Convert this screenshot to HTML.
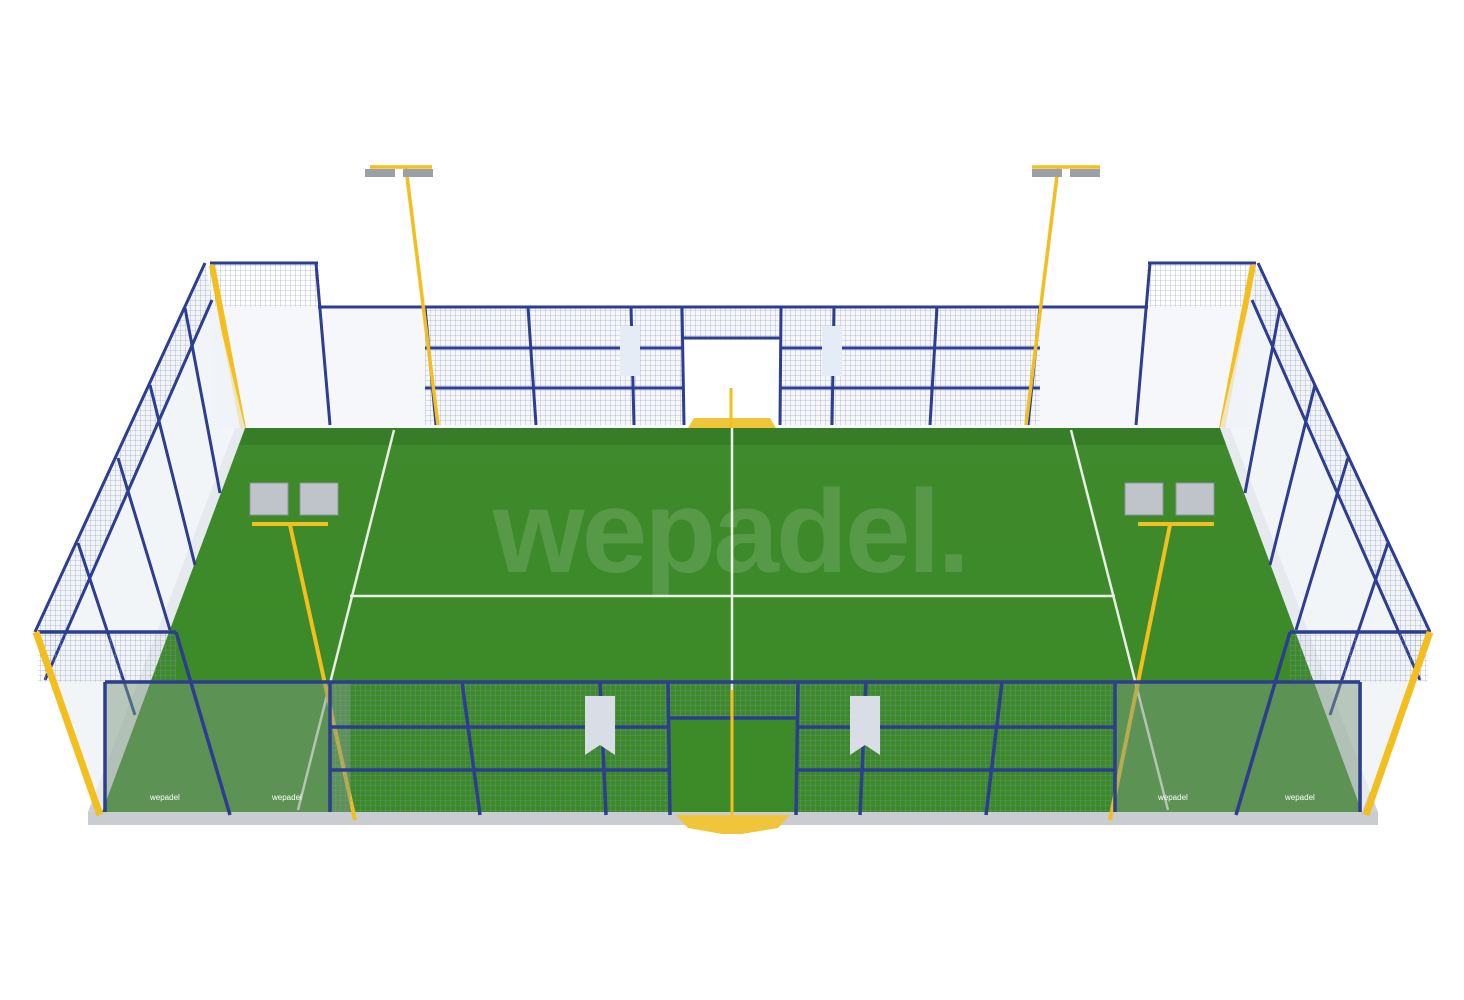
<!DOCTYPE html>
<html><head><meta charset="utf-8"><style>
html,body{margin:0;padding:0;background:#fff;width:1464px;height:1000px;overflow:hidden}
svg{display:block}
</style></head><body>
<svg width="1464" height="1000" viewBox="0 0 1464 1000" xmlns="http://www.w3.org/2000/svg">
<defs>
<pattern id="mesh" width="5" height="5" patternUnits="userSpaceOnUse">
<path d="M0 0H5M0 0V5" stroke="#8a93c0" stroke-width="0.6" fill="none"/>
</pattern>
<linearGradient id="grass" x1="0" y1="0" x2="0" y2="1">
<stop offset="0" stop-color="#3f8a2c"/><stop offset="1" stop-color="#3a8a26"/>
</linearGradient>
</defs>
<polygon points="88,812 1378,812 1378,825 88,825" fill="#c9ccd0"/>
<polygon points="235,428 1230,428 1378,812 88,812" fill="#cdd0d4"/>
<polygon points="245,428 1220,428 1362,812 102,812" fill="url(#grass)"/>
<polygon points="245,428 1220,428 1226,445 240,445" fill="#2f6e20" opacity="0.5"/>
<g stroke="#e9efe4" stroke-width="2.5" fill="none">
<line x1="732" y1="428" x2="732" y2="812"/>
<line x1="350" y1="596" x2="1115" y2="596"/>
<line x1="394" y1="430" x2="298" y2="810"/>
<line x1="1071" y1="430" x2="1168" y2="810"/>
</g>
<text x="730" y="572" text-anchor="middle" font-family="Liberation Sans, sans-serif" font-weight="bold" font-size="118" fill="#ffffff" opacity="0.13" letter-spacing="-3">wepadel.</text>
<rect x="210" y="307" width="1045" height="121" fill="#f4f6fa" opacity="0.85"/>
<rect x="425" y="307" width="615" height="118" fill="url(#mesh)"/>
<rect x="684" y="340" width="97" height="88" fill="#ffffff"/>
<rect x="210" y="263" width="110" height="44" fill="url(#mesh)"/>
<rect x="1146" y="263" width="110" height="44" fill="url(#mesh)"/>
<g stroke="#2d3d8f" stroke-width="3" fill="none">
<line x1="210" y1="263" x2="318" y2="263"/><line x1="1148" y1="263" x2="1256" y2="263"/>
<line x1="318" y1="307" x2="1148" y2="307"/>
<line x1="425" y1="348" x2="684" y2="348"/><line x1="781" y1="348" x2="1040" y2="348"/>
<line x1="425" y1="388" x2="684" y2="388"/><line x1="781" y1="388" x2="1040" y2="388"/>
<line x1="684" y1="338" x2="781" y2="338"/>
<line x1="316" y1="263" x2="330" y2="425"/><line x1="1150" y1="263" x2="1136" y2="425"/>
<line x1="425" y1="307" x2="436" y2="425"/><line x1="1040" y1="307" x2="1028" y2="425"/>
<line x1="528" y1="307" x2="536" y2="425"/><line x1="937" y1="307" x2="930" y2="425"/>
<line x1="631" y1="307" x2="634" y2="425"/><line x1="834" y1="307" x2="832" y2="425"/>
<line x1="682" y1="307" x2="684" y2="425"/><line x1="781" y1="307" x2="780" y2="425"/>
</g>
<rect x="620" y="326" width="20" height="50" fill="#e6ecf5"/>
<rect x="822" y="326" width="20" height="50" fill="#e6ecf5"/>
<polygon points="688,428 776,428 770,418 694,418" fill="#f1c53a"/>
<g stroke="#f2bf1f" stroke-width="3.5"><line x1="406" y1="168" x2="438" y2="425"/><line x1="1058" y1="168" x2="1026" y2="425"/>
<line x1="370" y1="167" x2="432" y2="167"/><line x1="1032" y1="167" x2="1100" y2="167"/></g>
<rect x="365" y="169" width="30" height="8" fill="#9aa0a8"/><rect x="403" y="169" width="30" height="8" fill="#9aa0a8"/>
<rect x="1032" y="169" width="30" height="8" fill="#9aa0a8"/><rect x="1070" y="169" width="30" height="8" fill="#9aa0a8"/>
<g stroke="#f2bf1f" stroke-width="6"><line x1="212" y1="265" x2="243" y2="428"/><line x1="1253" y1="265" x2="1222" y2="428"/></g>
<polygon points="205,263 245,428 102,812 35,632" fill="#eef1f6" opacity="0.75"/>
<polygon points="205,263 212,300 45,680 35,632" fill="url(#mesh)"/>
<g stroke="#2d3d8f" stroke-width="3" fill="none">
<line x1="205" y1="263" x2="35" y2="632"/><line x1="212" y1="300" x2="45" y2="680"/>
<line x1="185" y1="308" x2="220" y2="493"/><line x1="150" y1="385" x2="195" y2="565"/>
<line x1="118" y1="458" x2="170" y2="630"/><line x1="78" y1="543" x2="135" y2="715"/>
</g>
<polygon points="1258,263 1220,428 1362,812 1430,632" fill="#eef1f6" opacity="0.75"/>
<polygon points="1258,263 1252,300 1420,680 1430,632" fill="url(#mesh)"/>
<g stroke="#2d3d8f" stroke-width="3" fill="none">
<line x1="1258" y1="263" x2="1430" y2="632"/><line x1="1252" y1="300" x2="1420" y2="680"/>
<line x1="1280" y1="308" x2="1245" y2="493"/><line x1="1315" y1="385" x2="1270" y2="565"/>
<line x1="1348" y1="458" x2="1296" y2="630"/><line x1="1388" y1="543" x2="1330" y2="715"/>
</g>
<line x1="290" y1="525" x2="355" y2="820" stroke="#f2bf1f" stroke-width="4"/>
<line x1="252" y1="524" x2="328" y2="524" stroke="#f2bf1f" stroke-width="4"/>
<rect x="250" y="483" width="38" height="32" fill="#bfc4ca" stroke="#8d939b"/><rect x="300" y="483" width="38" height="32" fill="#bfc4ca" stroke="#8d939b"/>
<line x1="1170" y1="525" x2="1110" y2="820" stroke="#f2bf1f" stroke-width="4"/>
<line x1="1138" y1="524" x2="1214" y2="524" stroke="#f2bf1f" stroke-width="4"/>
<rect x="1125" y="483" width="38" height="32" fill="#bfc4ca" stroke="#8d939b"/><rect x="1176" y="483" width="38" height="32" fill="#bfc4ca" stroke="#8d939b"/>
<rect x="105" y="682" width="245" height="130" fill="#7d9a80" opacity="0.5"/>
<rect x="1115" y="682" width="247" height="130" fill="#7d9a80" opacity="0.5"/>
<rect x="38" y="632" width="138" height="50" fill="url(#mesh)"/>
<rect x="1290" y="632" width="138" height="50" fill="url(#mesh)"/>
<rect x="330" y="682" width="785" height="130" fill="url(#mesh)" opacity="0.9"/>
<rect x="668" y="720" width="130" height="92" fill="#3d8a28"/>
<g stroke="#2d3d8f" stroke-width="3.5" fill="none">
<line x1="38" y1="632" x2="176" y2="632"/><line x1="1290" y1="632" x2="1428" y2="632"/>
<line x1="105" y1="682" x2="1360" y2="682"/>
<line x1="330" y1="727" x2="668" y2="727"/><line x1="798" y1="727" x2="1115" y2="727"/>
<line x1="330" y1="770" x2="668" y2="770"/><line x1="798" y1="770" x2="1115" y2="770"/>
<line x1="668" y1="718" x2="798" y2="718"/>
<line x1="176" y1="632" x2="230" y2="815"/><line x1="1290" y1="632" x2="1236" y2="815"/>
<line x1="462" y1="682" x2="480" y2="815"/><line x1="600" y1="682" x2="606" y2="815"/>
<line x1="668" y1="682" x2="670" y2="815"/><line x1="798" y1="682" x2="796" y2="815"/>
<line x1="866" y1="682" x2="860" y2="815"/><line x1="1002" y1="682" x2="986" y2="815"/>
<line x1="105" y1="682" x2="105" y2="812"/><line x1="1360" y1="682" x2="1360" y2="812"/>
<line x1="330" y1="682" x2="330" y2="812"/><line x1="1115" y1="682" x2="1115" y2="812"/>
</g>
<g stroke="#f2bf1f" stroke-width="7"><line x1="36" y1="632" x2="100" y2="815"/><line x1="1430" y1="632" x2="1366" y2="815"/></g>
<polygon points="585,696 615,696 615,755 600,745 585,755" fill="#d8dde6"/>
<polygon points="850,696 880,696 880,755 865,745 850,755" fill="#d8dde6"/>
<line x1="731" y1="388" x2="731" y2="428" stroke="#f2bf1f" stroke-width="3"/>
<line x1="732" y1="690" x2="732" y2="815" stroke="#f2bf1f" stroke-width="3"/>
<polygon points="676,815 790,815 778,828 742,834 722,834 688,828" fill="#f1c53a"/>
<g font-family="Liberation Sans, sans-serif" font-size="8" fill="#ffffff">
<text x="150" y="800">wepadel</text><text x="272" y="800">wepadel</text>
<text x="1158" y="800">wepadel</text><text x="1285" y="800">wepadel</text>
</g>
</svg>
</body></html>
